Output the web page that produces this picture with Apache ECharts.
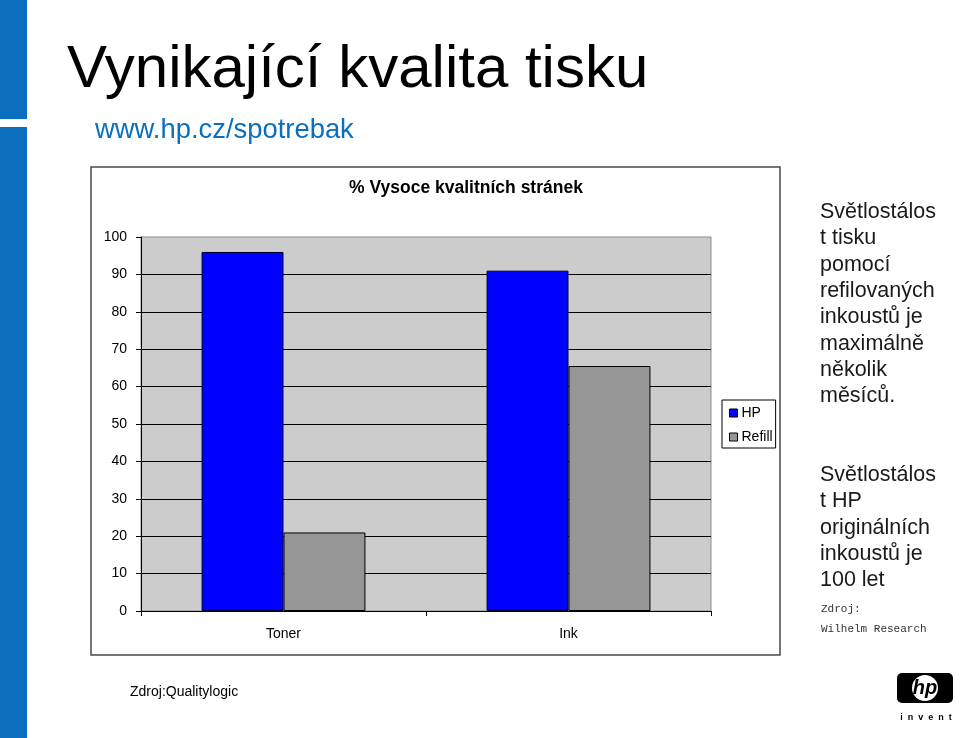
<!DOCTYPE html>
<html>
<head>
<meta charset="utf-8">
<script src="https://cdn.jsdelivr.net/npm/echarts@6/dist/echarts.min.js"></script>
<style>
html,body{margin:0;padding:0;background:#fff;}
#c{width:960px;height:738px;}
</style>
</head>
<body>
<div id="c"></div>
<script>
const categories = ['Toner', 'Ink'];
const seriesNames = ['HP', 'Refill'];
const hpValues = [96, 91];
const refillValues = [21, 65.5];
const yMin = 0, yMax = 100, yStep = 10;

const slideTitle = 'Vynikající kvalita tisku';
const slideUrl = 'www.hp.cz/spotrebak';
const chartTitle = '% Vysoce kvalitních stránek';
const noteRefill = ['Světlostálos', 't tisku', 'pomocí', 'refilovaných', 'inkoustů je', 'maximálně', 'několik', 'měsíců.'];
const noteHp = ['Světlostálos', 't HP', 'originálních', 'inkoustů je', '100 let'];
const sourceRight = ['Zdroj:', 'Wilhelm Research'];
const sourceLeft = 'Zdroj:Qualitylogic';

const font = '"Liberation Sans", Arial, sans-serif';
const chart = echarts.init(document.getElementById('c'), null, {renderer: 'canvas'});

const graphics = [
  {type: 'rect', shape: {x: 0, y: 0, width: 27, height: 119}, style: {fill: '#0A6FBF'}, z: 0},
  {type: 'rect', shape: {x: 0, y: 127, width: 27, height: 611}, style: {fill: '#0A6FBF'}, z: 0},
  {type: 'text', style: {x: 67, y: 70, text: slideTitle, font: '60px ' + font, fill: '#000', verticalAlign: 'middle'}},
  {type: 'text', style: {x: 95, y: 130, text: slideUrl, font: '27.4px ' + font, fill: '#0A6FBF', verticalAlign: 'middle'}},
  {type: 'rect', shape: {x: 91, y: 167, width: 689, height: 488}, style: {fill: '#fff', stroke: '#4a4a4a', lineWidth: 1.5}, z: -10},
  {type: 'text', style: {x: 466, y: 188, text: chartTitle, font: 'bold 17.5px ' + font, fill: '#000', align: 'center', verticalAlign: 'middle'}},
  {type: 'text', style: {x: 820, y: 199, text: noteRefill.join('\n'), font: '21.5px ' + font, fill: '#1a1a1a', lineHeight: 26.3, verticalAlign: 'top'}},
  {type: 'text', style: {x: 820, y: 462, text: noteHp.join('\n'), font: '21.5px ' + font, fill: '#1a1a1a', lineHeight: 26.3, verticalAlign: 'top'}},
  {type: 'text', style: {x: 821, y: 609, text: sourceRight[0], font: '11px "Liberation Mono", monospace', fill: '#333', verticalAlign: 'middle'}},
  {type: 'text', style: {x: 821, y: 629, text: sourceRight[1], font: '11px "Liberation Mono", monospace', fill: '#333', verticalAlign: 'middle'}},
  {type: 'text', style: {x: 130, y: 692, text: sourceLeft, font: '14px ' + font, fill: '#000', verticalAlign: 'middle'}},
  {type: 'rect', shape: {x: 897, y: 673, width: 56, height: 30, r: 5}, style: {fill: '#000'}},
  {type: 'circle', shape: {cx: 925, cy: 688, r: 13}, style: {fill: '#fff'}},
  {type: 'text', style: {x: 925, y: 688, text: 'hp', font: 'italic bold 20px ' + font, fill: '#000', align: 'center', verticalAlign: 'middle'}},
  {type: 'text', style: {x: 926, y: 718, text: 'i  n  v  e  n  t', font: 'bold 9px ' + font, fill: '#000', align: 'center', verticalAlign: 'middle'}}
];

chart.setOption({
  animation: false,
  backgroundColor: '#fff',
  textStyle: {fontFamily: font},
  grid: {left: 141, top: 237, width: 570, height: 374, show: true, backgroundColor: '#CCCCCC', borderColor: '#8c8c8c', borderWidth: 1},
  legend: {
    data: seriesNames, orient: 'vertical', left: 722, top: 400,
    itemWidth: 8, itemHeight: 8, itemGap: 10, icon: 'rect',
    padding: [6, 3, 4, 7],
    backgroundColor: '#fff', borderColor: '#000', borderWidth: 1,
    textStyle: {fontSize: 14, color: '#000', fontFamily: font, padding: [0, 0, 0, -1]},
    itemStyle: {borderColor: '#000', borderWidth: 1}
  },
  xAxis: {
    type: 'category', data: categories,
    axisLine: {show: true, lineStyle: {color: '#000', width: 1}},
    axisTick: {show: true, length: 5, inside: false, lineStyle: {color: '#000'}},
    axisLabel: {fontSize: 14, color: '#000', margin: 16, fontFamily: font},
    splitLine: {show: false}
  },
  yAxis: {
    type: 'value', min: yMin, max: yMax, interval: yStep,
    axisLine: {show: true, lineStyle: {color: '#000', width: 1}},
    axisTick: {show: true, length: 5, lineStyle: {color: '#000'}},
    axisLabel: {fontSize: 14, color: '#000', margin: 14, fontFamily: font},
    splitLine: {show: true, showMaxLine: false, lineStyle: {color: '#000', width: 1}}
  },
  series: [
    {name: seriesNames[0], type: 'bar', data: hpValues, barGap: '0%', barCategoryGap: '42.5%',
     itemStyle: {color: '#0000FF', borderColor: '#000033', borderWidth: 1}},
    {name: seriesNames[1], type: 'bar', data: refillValues, barGap: '0%', barCategoryGap: '42.5%',
     itemStyle: {color: '#969696', borderColor: '#000', borderWidth: 1}}
  ],
  graphic: graphics
});
</script>
</body>
</html>
